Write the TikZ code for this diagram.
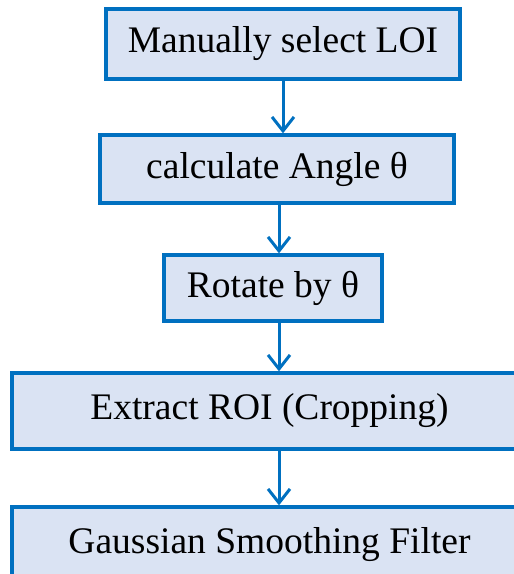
\documentclass[tikz,border=0pt]{standalone}
\usepackage{fontspec}
\setmainfont{Liberation Serif}
\usetikzlibrary{arrows.meta}
\definecolor{boxfill}{HTML}{DAE3F3}
\definecolor{boxline}{HTML}{0070C0}
\begin{document}
\begin{tikzpicture}[x=1pt,y=-1pt,
  stepbox/.style={draw=boxline, fill=boxfill, line width=3.3pt, rectangle,
    inner sep=0pt, font=\fontsize{37.5}{42}\selectfont, text=black},
  arr/.style={draw=boxline, line width=3pt,
    -{Straight Barb[length=14pt,width=22pt,line width=3pt]}}]
  \useasboundingbox (0,0) rectangle (514,574);
  \clip (0,0) rectangle (514,574);
  \node[stepbox, minimum width=354pt, minimum height=70pt] (b1) at (283,44) {Manually select LOI};
  \node[stepbox, minimum width=354pt, minimum height=68pt] (b2) at (277,169) {calculate Angle θ};
  \node[stepbox, minimum width=218pt, minimum height=66pt] (b3) at (273,288) {Rotate by θ};
  \node[stepbox, minimum width=515pt, minimum height=76pt] (b4) at (269.5,411) {Extract ROI (Cropping)};
  \node[stepbox, minimum width=515pt, minimum height=75pt] (b5) at (269.5,544.5) {Gaussian Smoothing Filter};
  \coordinate (a1) at (283,0);
  \coordinate (a2) at (279,0);
  \draw[arr] (b1.south -| a1) -- (b2.north -| a1);
  \draw[arr] (b2.south -| a2) -- (b3.north -| a2);
  \draw[arr] (b3.south -| a2) -- (b4.north -| a2);
  \draw[arr] (b4.south -| a2) -- (b5.north -| a2);
\end{tikzpicture}
\end{document}
